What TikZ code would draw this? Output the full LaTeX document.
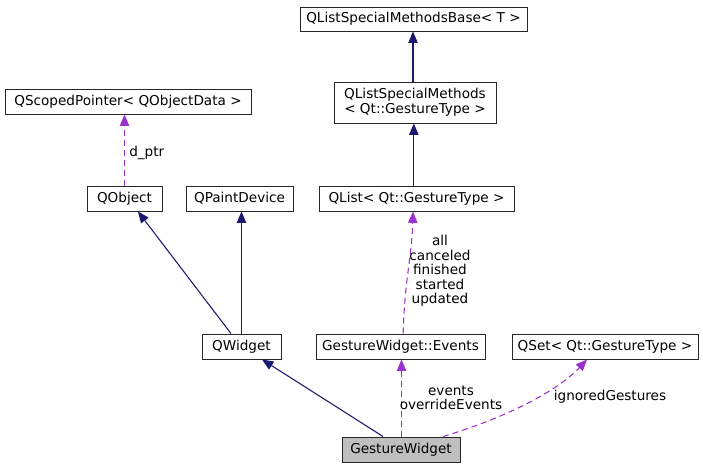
\documentclass[tikz,border=0pt]{standalone}
\usepackage{fontspec}
\setmainfont{DejaVu Sans}
\usetikzlibrary{arrows.meta}
\definecolor{inh}{HTML}{191970}
\definecolor{use}{HTML}{9A32CD}
\definecolor{bord}{HTML}{262626}
\begin{document}
\begin{tikzpicture}[x=0.75pt,y=-0.75pt,
  font=\fontsize{10.2}{11.5}\selectfont,
  cls/.style={draw=bord,line width=0.75pt,fill=white,inner sep=0pt,align=center},
  inhedge/.style={draw=inh,line width=0.8pt,-{Triangle[length=8.5pt,width=7pt]}},
  useedge/.style={draw=use,line width=0.8pt,dash pattern=on 4.5pt off 3pt,-{Triangle[length=8.5pt,width=7pt]}},
  lbl/.style={inner sep=0pt,align=center,font=\fontsize{10.2}{10.9}\selectfont}]
\useasboundingbox (0,0) rectangle (703,469);
% nodes
\node[cls,minimum width=170.25pt,minimum height=18pt] (base) at (413.5,19) {QListSpecialMethodsBase< T >};
\node[cls,minimum width=121.5pt,minimum height=30.75pt] (qlsm) at (415,102.5) {QListSpecialMethods\\< Qt::GestureType >};
\node[cls,minimum width=184.5pt,minimum height=18.75pt] (qsp) at (128,101.5) {QScopedPointer< QObjectData >};
\node[cls,minimum width=56.25pt,minimum height=18.75pt] (qobj) at (124.5,198.5) {QObject};
\node[cls,minimum width=80.25pt,minimum height=18.75pt] (qpd) at (239.5,198.5) {QPaintDevice};
\node[cls,minimum width=146.25pt,minimum height=18.75pt] (qlist) at (416.5,198.5) {QList< Qt::GestureType >};
\node[cls,minimum width=59.25pt,minimum height=18.75pt] (qwidget) at (241.5,346.5) {QWidget};
\node[cls,minimum width=126.75pt,minimum height=18.75pt] (events) at (400.5,346.5) {GestureWidget::Events};
\node[cls,minimum width=139.5pt,minimum height=18.75pt] (qset) at (605,346.5) {QSet< Qt::GestureType >};
\node[cls,fill={rgb,255:red,191;green,191;blue,191},minimum width=88.5pt,minimum height=18.75pt] (gw) at (401,449.5) {GestureWidget};
% edges
\draw[inhedge] ([xshift=-1.5pt]qlsm.north) -- ([xshift=-1.5pt]qlsm.north |- base.south);
\draw[inhedge] ([xshift=-2pt]qlist.north) -- ([xshift=-2pt]qlist.north |- qlsm.south);
\draw[useedge] (qobj.north) -- (qobj.north |- qsp.south);
\draw[inhedge] ([xshift=-7.9pt]qwidget.north) -- ([xshift=10.1pt]qobj.south);
\draw[inhedge] (qwidget.north) -- (qwidget.north |- qpd.south);
\draw[useedge] ([xshift=2pt]events.north) .. controls +(1pt,40pt) and +(-1pt,-35pt) .. ([xshift=-2.6pt]qlist.south);
\draw[inhedge] ([xshift=-13.5pt]gw.north) -- ([xshift=15.4pt]qwidget.south);
\draw[useedge] ([xshift=0.4pt]gw.north) -- ([xshift=0.4pt]gw.north |- events.south);
\draw[useedge] ([xshift=31.5pt]gw.north) .. controls +(42.75pt,12.75pt) and +(-24pt,-25.5pt) .. ([xshift=-13.5pt]qset.south);
% labels
\node[lbl,anchor=west] (l1) at (129,153) {d\_ptr};
\node[lbl] (l2) at (440,271) {all\\canceled\\finished\\started\\updated};
\node[lbl] (l3) at (451,398) {events\\overrideEvents};
\node[lbl] (l4) at (610,397) {ignoredGestures};
\end{tikzpicture}
\end{document}
